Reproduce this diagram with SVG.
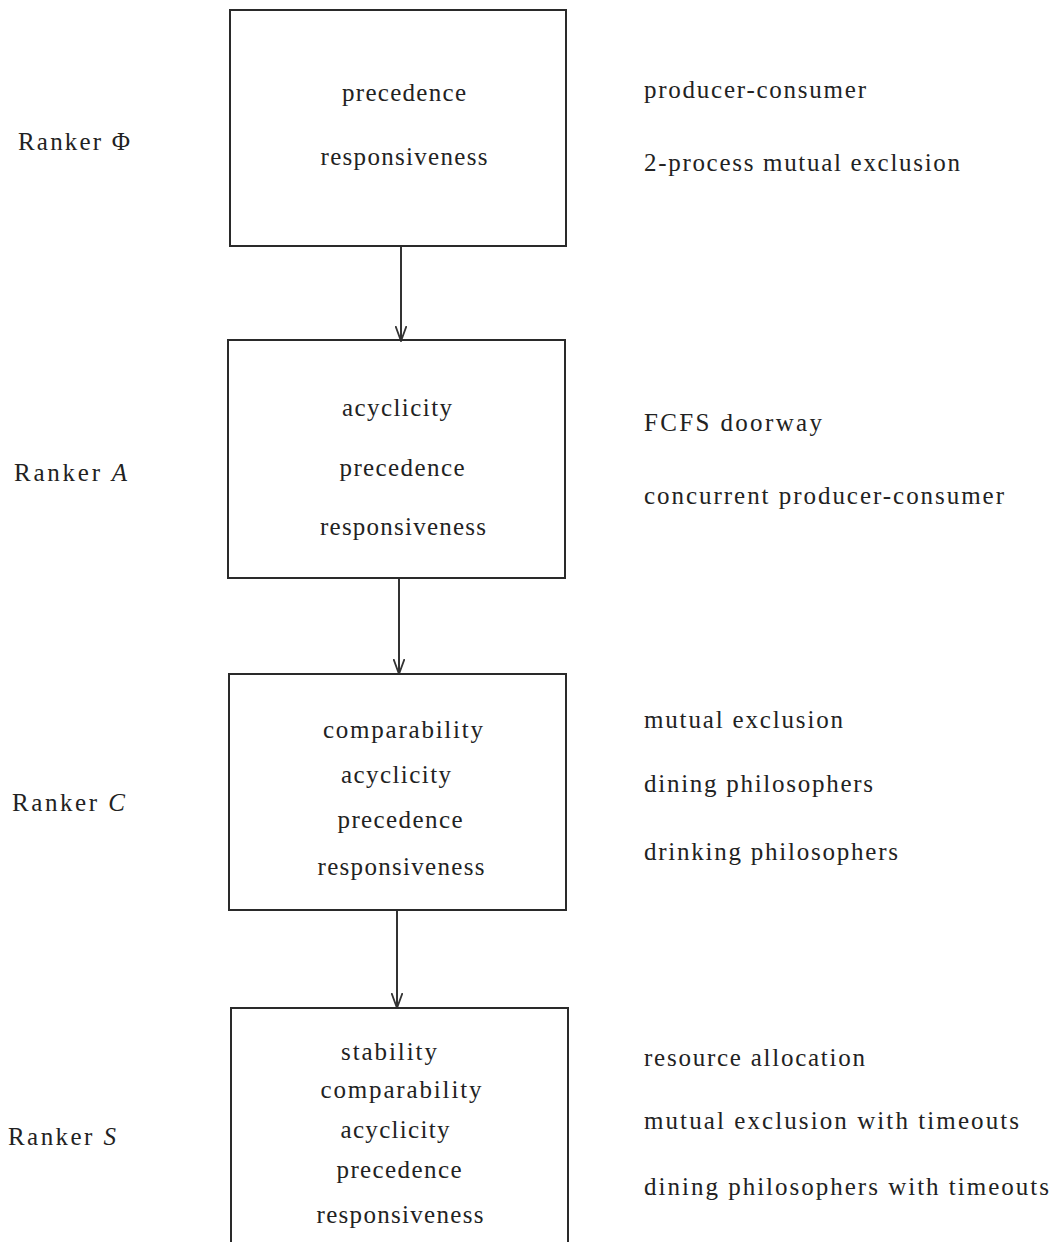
<svg xmlns="http://www.w3.org/2000/svg" width="1053" height="1242" viewBox="0 0 1053 1242">
<defs>
<style>
.box{fill:none;stroke:#2a2a2a;stroke-width:2}
.conn{stroke:#333;stroke-width:2;fill:none}
text{font-family:"Liberation Serif","Times New Roman",serif;font-size:25px;fill:#222}
.c{text-anchor:middle}
.lab{font-size:25px}
</style>
<marker id="arr" viewBox="0 0 16 12" refX="15" refY="6" markerWidth="16" markerHeight="12" markerUnits="userSpaceOnUse" orient="auto">
<path d="M0,0.5 L15,6 L0,11.5" fill="none" stroke="#333" stroke-width="1.8"/>
</marker>
</defs>
<rect width="1053" height="1242" fill="#fff"/>
<g id="connectors">
<line class="conn" x1="401" y1="246" x2="401" y2="341" marker-end="url(#arr)"/>
<line class="conn" x1="399" y1="578" x2="399" y2="674" marker-end="url(#arr)"/>
<line class="conn" x1="397" y1="910" x2="397" y2="1008" marker-end="url(#arr)"/>
</g>
<g id="rankerPhi">
<rect class="box" x="230" y="10" width="336" height="236"/>
<text x="404" y="101" class="c" textLength="124" lengthAdjust="spacing">precedence</text>
<text x="404" y="165" class="c" textLength="167" lengthAdjust="spacing">responsiveness</text>
<text x="18" y="150" class="lab" textLength="112" lengthAdjust="spacing">Ranker Φ</text>
<text x="644" y="98" textLength="222" lengthAdjust="spacing">producer-consumer</text>
<text x="644" y="171" textLength="316" lengthAdjust="spacing">2-process mutual exclusion</text>
</g>
<g id="rankerA">
<rect class="box" x="228" y="340" width="337" height="238"/>
<text x="397" y="416" class="c" textLength="110" lengthAdjust="spacing">acyclicity</text>
<text x="402" y="476" class="c" textLength="125" lengthAdjust="spacing">precedence</text>
<text x="403" y="535" class="c" textLength="166" lengthAdjust="spacing">responsiveness</text>
<text x="14" y="481" class="lab" textLength="113" lengthAdjust="spacing">Ranker <tspan font-style="italic">A</tspan></text>
<text x="644" y="431" textLength="178" lengthAdjust="spacing">FCFS doorway</text>
<text x="644" y="504" textLength="360" lengthAdjust="spacing">concurrent producer-consumer</text>
</g>
<g id="rankerC">
<rect class="box" x="229" y="674" width="337" height="236"/>
<text x="403" y="738" class="c" textLength="160" lengthAdjust="spacing">comparability</text>
<text x="396" y="783" class="c" textLength="110" lengthAdjust="spacing">acyclicity</text>
<text x="400" y="828" class="c" textLength="125" lengthAdjust="spacing">precedence</text>
<text x="401" y="875" class="c" textLength="167" lengthAdjust="spacing">responsiveness</text>
<text x="12" y="811" class="lab" textLength="113" lengthAdjust="spacing">Ranker <tspan font-style="italic">C</tspan></text>
<text x="644" y="728" textLength="199" lengthAdjust="spacing">mutual exclusion</text>
<text x="644" y="792" textLength="229" lengthAdjust="spacing">dining philosophers</text>
<text x="644" y="860" textLength="254" lengthAdjust="spacing">drinking philosophers</text>
</g>
<g id="rankerS">
<path class="box" d="M231,1242 L231,1008 L568,1008 L568,1242"/>
<text x="389" y="1060" class="c" textLength="96" lengthAdjust="spacing">stability</text>
<text x="401" y="1098" class="c" textLength="161" lengthAdjust="spacing">comparability</text>
<text x="395" y="1138" class="c" textLength="109" lengthAdjust="spacing">acyclicity</text>
<text x="399" y="1178" class="c" textLength="125" lengthAdjust="spacing">precedence</text>
<text x="400" y="1223" class="c" textLength="167" lengthAdjust="spacing">responsiveness</text>
<text x="8" y="1145" class="lab" textLength="108" lengthAdjust="spacing">Ranker <tspan font-style="italic">S</tspan></text>
<text x="644" y="1066" textLength="221" lengthAdjust="spacing">resource allocation</text>
<text x="644" y="1129" textLength="375" lengthAdjust="spacing">mutual exclusion with timeouts</text>
<text x="644" y="1195" textLength="405" lengthAdjust="spacing">dining philosophers with timeouts</text>
</g>
</svg>
